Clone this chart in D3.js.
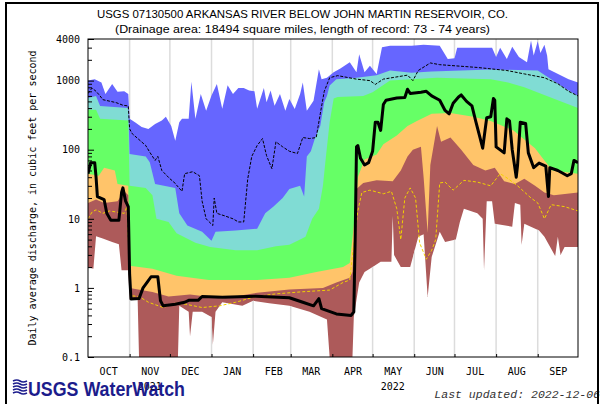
<!DOCTYPE html>
<html><head><meta charset="utf-8">
<script src="https://cdn.jsdelivr.net/npm/d3@7"></script>
<style>body{margin:0;background:#fff}svg{display:block}</style>
</head><body>
<svg id="c" width="604" height="404"></svg>
<script>
// ---------- data (day = days after 2021-10-01, value = cubic feet per second) ----------
const titleLines = [
  "USGS 07130500 ARKANSAS RIVER BELOW JOHN MARTIN RESERVOIR, CO.",
  "(Drainage area: 18494 square miles, length of record: 73 - 74 years)"
];
const yAxisTitle = "Daily average discharge, in cubic feet per second";
const monthLabels = ["OCT","NOV","DEC","JAN","FEB","MAR","APR","MAY","JUN","JUL","AUG","SEP"];
const yearLabels = [["2021", 1], ["2022", 7]];
const yTickLabels = [0.1, 1, 10, 100, 1000, 4000];
const lastUpdated = "Last updated: 2022-12-06";

const maxFlow = [[0,1000],[5,1050],[10,940],[13,640],[18,890],[22,690],[27,700],[30,640],[31,280],[35,250],[40,213],[45,200],[50,235],[55,265],[58,300],[62,220],[65,135],[68,250],[70,280],[75,280],[77,960],[80,280],[84,640],[88,365],[92,610],[96,890],[100,390],[104,860],[108,640],[112,780],[116,780],[120,720],[124,700],[126,390],[131,780],[133,485],[136,720],[139,433],[143,640],[147,366],[150,542],[154,388],[158,640],[160,940],[163,366],[168,512],[172,1460],[174,1050],[178,1100],[183,1320],[188,1500],[195,1850],[200,1320],[202,2400],[206,1320],[210,1640],[215,1250],[219,3030],[225,3200],[241,3200],[250,3300],[262,3200],[268,2050],[273,2100],[275,3000],[290,3000],[301,3000],[304,2200],[307,3000],[312,2050],[316,3100],[321,2200],[327,1850],[330,3800],[332,2300],[335,3700],[337,2500],[340,3300],[342,2300],[343,1460],[358,1050],[365,940]];
const p90Flow = [[0,560],[6,600],[9,430],[30,400],[31,87],[43,80],[46,66],[50,32],[65,28],[68,12],[74,8],[85,6.5],[92,4.8],[95,6.5],[110,6.8],[126,7.2],[132,12],[138,15],[145,20],[150,27],[158,30],[161,21],[163,80],[166,95],[169,145],[173,220],[176,490],[178,600],[180,850],[185,1050],[200,1100],[215,1200],[225,1400],[241,1300],[256,1360],[300,1450],[335,1400],[345,1050],[355,780],[365,600]];
const p75Flow = [[0,380],[6,380],[9,280],[30,265],[31,30],[43,28],[48,22],[51,10],[60,9],[66,6.2],[80,4.5],[91,3.9],[110,3.5],[126,3.5],[140,4],[150,4.2],[158,5],[162,5.5],[167,10],[172,14],[175,30],[177,72],[180,250],[183,550],[186,580],[205,600],[212,680],[225,1000],[260,1100],[300,1050],[312,950],[325,800],[337,650],[350,520],[365,400]];
const p25Flow = [[0,45],[8,42],[12,55],[20,50],[22,32],[30,30],[31,2.1],[48,1.9],[66,1.5],[90,1.3],[126,1.3],[150,1.4],[170,1.7],[190,2.0],[195,2.3],[198,8],[201,40],[206,72],[215,85],[220,120],[230,160],[238,220],[245,260],[256,330],[270,340],[287,300],[300,260],[317,190],[325,140],[333,105],[340,70],[346,50],[365,45]];
const p10Flow = [[0,17],[6,19],[12,17],[22,18],[27,25],[30,22],[31,1.0],[48,0.87],[60,0.75],[76,0.8],[100,0.7],[126,0.85],[150,0.95],[175,1.0],[185,1.2],[195,1.4],[197,1.7],[200,27],[205,33],[215,36],[227,35],[233,50],[238,80],[242,100],[248,110],[250,40],[253,6.3],[255,60],[260,220],[263,130],[270,150],[278,100],[287,60],[296,50],[303,55],[310,35],[318,32],[325,38],[333,30],[340,24],[347,22],[365,24]];
const minFlow = [[0,2.0],[4,1.9],[6,5.6],[11,5.2],[18,4.6],[23,4.3],[25,1.8],[30,1.8],[31,0.67],[37,0.67],[38,0.1],[67,0.1],[68,0.55],[75,0.45],[76,0.2],[78,0.45],[85,0.45],[92,0.38],[93,0.15],[95,0.45],[100,0.62],[115,0.55],[123,0.65],[135,0.6],[150,0.55],[165,0.45],[178,0.35],[180,0.1],[197,0.1],[198,0.38],[202,1.2],[206,1.7],[212,2.0],[218,2.4],[226,2.4],[227,11],[228,3.0],[233,2.0],[240,2.0],[246,5.5],[250,6.0],[253,0.74],[256,2.8],[262,6.5],[266,4.6],[274,5.0],[277,9],[280,14],[290,12],[294,10],[295,1.8],[297,18],[301,18],[303,8.5],[316,7.7],[318,17],[322,16],[323,4.2],[325,8.5],[336,6.8],[340,5.5],[348,2.9],[350,5.5],[352,3.0],[355,3.9],[365,3.9]];
const meanFlow = [[0,650],[3,780],[6,700],[9,600],[11,530],[21,480],[26,440],[30,430],[31,200],[33,170],[38,140],[43,115],[46,92],[50,70],[52,80],[55,50],[61,38],[64,34],[70,25],[72,45],[78,48],[83,42],[85,18],[88,10],[93,8],[94,20],[96,12],[102,11],[108,10],[112,9],[116,9],[119,38],[122,80],[126,115],[130,145],[133,82],[137,53],[140,130],[145,110],[150,95],[156,88],[160,150],[165,145],[170,150],[173,330],[176,700],[180,1100],[186,1180],[200,1050],[210,1000],[214,880],[220,1050],[238,1200],[242,1000],[246,1400],[255,1800],[262,1700],[290,1550],[312,1400],[325,1250],[340,1100],[350,900],[358,700],[365,600]];
const yellowFlow = [[0,10],[3,12.5],[6,13.5],[11,12],[16,13],[27,12],[29,15],[31,1.8],[32,0.77],[38,0.75],[45,0.62],[56,0.52],[65,0.6],[73,0.58],[85,0.52],[98,0.55],[110,0.62],[125,0.75],[140,0.82],[160,0.88],[180,0.93],[190,1.2],[195,1.3],[197,3],[201,13],[204,24],[210,26],[220,23],[226,25],[230,14],[233,5],[236,20],[240,28],[244,20],[247,4.5],[252,2.6],[256,3.5],[259,5],[262,33],[266,34],[272,26],[280,36],[290,34],[300,30],[307,45],[313,38],[320,30],[330,20],[335,17],[340,10],[345,16],[355,15],[365,13]];
const dailyFlow = [[0,45],[2,65],[5,65],[6,40],[7,21],[12,19],[14,12],[17,9.5],[23,9.5],[25,24],[26,28],[28,18],[30,15],[31,1.6],[32,0.69],[38,0.7],[41,1.0],[44,1.2],[47,1.45],[52,1.45],[54,0.65],[56,0.55],[65,0.58],[72,0.62],[75,0.66],[82,0.66],[85,0.75],[100,0.73],[125,0.76],[150,0.72],[160,0.62],[168,0.55],[172,0.7],[174,0.5],[185,0.42],[196,0.4],[198,0.45],[199,5],[200,110],[201,115],[203,75],[206,60],[209,65],[212,95],[214,250],[216,250],[218,190],[220,450],[222,520],[230,560],[236,570],[238,750],[240,650],[248,680],[252,700],[256,600],[262,520],[266,370],[269,330],[272,470],[276,580],[278,620],[282,500],[286,430],[289,250],[292,150],[294,105],[297,290],[300,300],[302,550],[303,520],[304,110],[310,90],[312,280],[314,260],[316,100],[319,40],[320,60],[322,250],[326,240],[328,90],[332,55],[336,64],[341,58],[343,21],[344,55],[350,50],[357,42],[360,45],[362,70],[365,65]];

// ---------- layout ----------
const svg = d3.select("#c");
const L = 88, R = 578, T = 39, B = 357;
const start = new Date(Date.UTC(2021, 9, 1));
const end = new Date(Date.UTC(2022, 9, 1));
const x = d3.scaleUtc().domain([start, end]).range([L, R]);
const y = d3.scaleLog().domain([0.1, 4000]).range([B, T]);
const dayX = d => x(d3.utcDay.offset(start, d[0]));

svg.append("rect").attr("width", 604).attr("height", 404).attr("fill", "#fff");

const defs = svg.append("defs");
defs.append("clipPath").attr("id", "plotclip").append("rect")
  .attr("x", L).attr("y", T).attr("width", R - L).attr("height", B - T);

const monthStarts = d3.utcMonth.range(d3.utcMonth.offset(start, 1), end);

function grid(g) {
  g.selectAll("line").data(monthStarts).join("line")
    .attr("x1", d => x(d)).attr("x2", d => x(d))
    .attr("y1", T).attr("y2", B)
    .attr("stroke", "#dcdcdc").attr("stroke-width", 1.5);
}
svg.append("g").call(grid);

const plot = svg.append("g").attr("clip-path", "url(#plotclip)");
const area = d3.area().x(dayX).y0(B).y1(d => y(Math.max(d[1], 0.1)));
const bands = [
  [maxFlow, "#6666ff"],
  [p90Flow, "#80dcd4"],
  [p75Flow, "#66ff66"],
  [p25Flow, "#ffc46a"],
  [p10Flow, "#ad5a5a"],
  [minFlow, "#ffffff"]
];
bands.forEach(([data, color]) => {
  plot.append("path").datum(data).attr("d", area).attr("fill", color);
});
defs.append("clipPath").attr("id", "minclip").append("path").datum(minFlow).attr("d", area);
plot.append("g").attr("clip-path", "url(#minclip)").call(grid);

const line = d3.line().x(dayX).y(d => y(d[1]));
plot.append("path").datum(yellowFlow).attr("d", line)
  .attr("fill", "none").attr("stroke", "#f2d200").attr("stroke-width", 1).attr("stroke-dasharray", "3,2");
plot.append("path").datum(meanFlow).attr("d", line)
  .attr("fill", "none").attr("stroke", "#000").attr("stroke-width", 1).attr("stroke-dasharray", "3,1.5");
plot.append("path").datum(dailyFlow).attr("d", line)
  .attr("fill", "none").attr("stroke", "#000").attr("stroke-width", 3).attr("stroke-linejoin", "round");

svg.append("rect").attr("x", L).attr("y", T).attr("width", R - L).attr("height", B - T)
  .attr("fill", "none").attr("stroke", "#000").attr("stroke-width", 1);

const mono = "'DejaVu Sans Mono', monospace";

const yAxis = d3.axisLeft(y).tickValues(yTickLabels).tickSize(-6).tickPadding(8)
  .tickFormat(d => String(d));
const gy = svg.append("g").attr("transform", `translate(${L},0)`).call(yAxis);
gy.select(".domain").remove();
gy.selectAll("text").attr("font-family", mono).attr("font-size", 10).attr("fill", "#000");

const minorVals = [];
[0.1, 1, 10, 100, 1000].forEach(b => { for (let k = 2; k <= 9; k++) if (b * k < 4000) minorVals.push(b * k); });
const gym = svg.append("g").attr("transform", `translate(${L},0)`)
  .call(d3.axisLeft(y).tickValues(minorVals).tickSize(-4).tickFormat(""));
gym.select(".domain").remove();

const gx = svg.append("g").attr("transform", `translate(0,${B})`)
  .call(d3.axisBottom(x).tickValues(monthStarts).tickSize(-3).tickFormat(""));
gx.select(".domain").remove();

const midMonths = d3.utcMonth.range(start, end).map(m => new Date(m.getTime() + 15 * 864e5));
const gxl = svg.append("g").attr("transform", `translate(0,${B})`)
  .call(d3.axisBottom(x).tickValues(midMonths).tickSize(0).tickPadding(11)
    .tickFormat((d, i) => monthLabels[i]));
gxl.select(".domain").remove();
gxl.selectAll("text").attr("font-family", mono).attr("font-size", 10).attr("fill", "#000");

svg.append("g").selectAll("text").data(yearLabels).join("text")
  .attr("x", d => x(midMonths[d[1]])).attr("y", 390)
  .attr("text-anchor", "middle").attr("font-family", mono).attr("font-size", 10)
  .text(d => d[0]);

const titleWidths = [411, 375];
svg.append("g").selectAll("text").data(titleLines).join("text")
  .attr("x", 302.5).attr("y", (d, i) => 18 + i * 15)
  .attr("text-anchor", "middle").attr("font-family", "'Liberation Sans', Arial, sans-serif")
  .attr("font-size", 11.5)
  .attr("textLength", (d, i) => titleWidths[i]).attr("lengthAdjust", "spacingAndGlyphs")
  .text(d => d);

svg.append("text").attr("transform", "translate(36,198) rotate(-90)")
  .attr("text-anchor", "middle").attr("font-family", mono).attr("font-size", 10)
  .text(yAxisTitle);

svg.append("text").attr("x", 600).attr("y", 398).attr("text-anchor", "end")
  .attr("font-family", "'Liberation Mono', 'Courier New', monospace").attr("font-style", "italic")
  .attr("font-size", 11.5).attr("fill", "#333").text(lastUpdated);

svg.append("path").attr("d", "M6,404 V3 H598 V404").attr("fill", "none")
  .attr("stroke", "#000").attr("stroke-width", 2);

const logo = svg.append("g");
for (let i = 0; i < 5; i++) {
  logo.append("path").attr("d", `M13,${381 + i * 3} q4,-2 7,0 t7,0`)
    .attr("fill", "none").attr("stroke", "#1c1c8c").attr("stroke-width", 1.6);
}
logo.append("text").attr("x", 28).attr("y", 396)
  .attr("font-family", "'Liberation Sans', Arial, sans-serif").attr("font-weight", "bold")
  .attr("font-size", 20).attr("fill", "#1c1c8c")
  .attr("textLength", 157).attr("lengthAdjust", "spacingAndGlyphs")
  .text("USGS WaterWatch");
</script>
</body></html>
